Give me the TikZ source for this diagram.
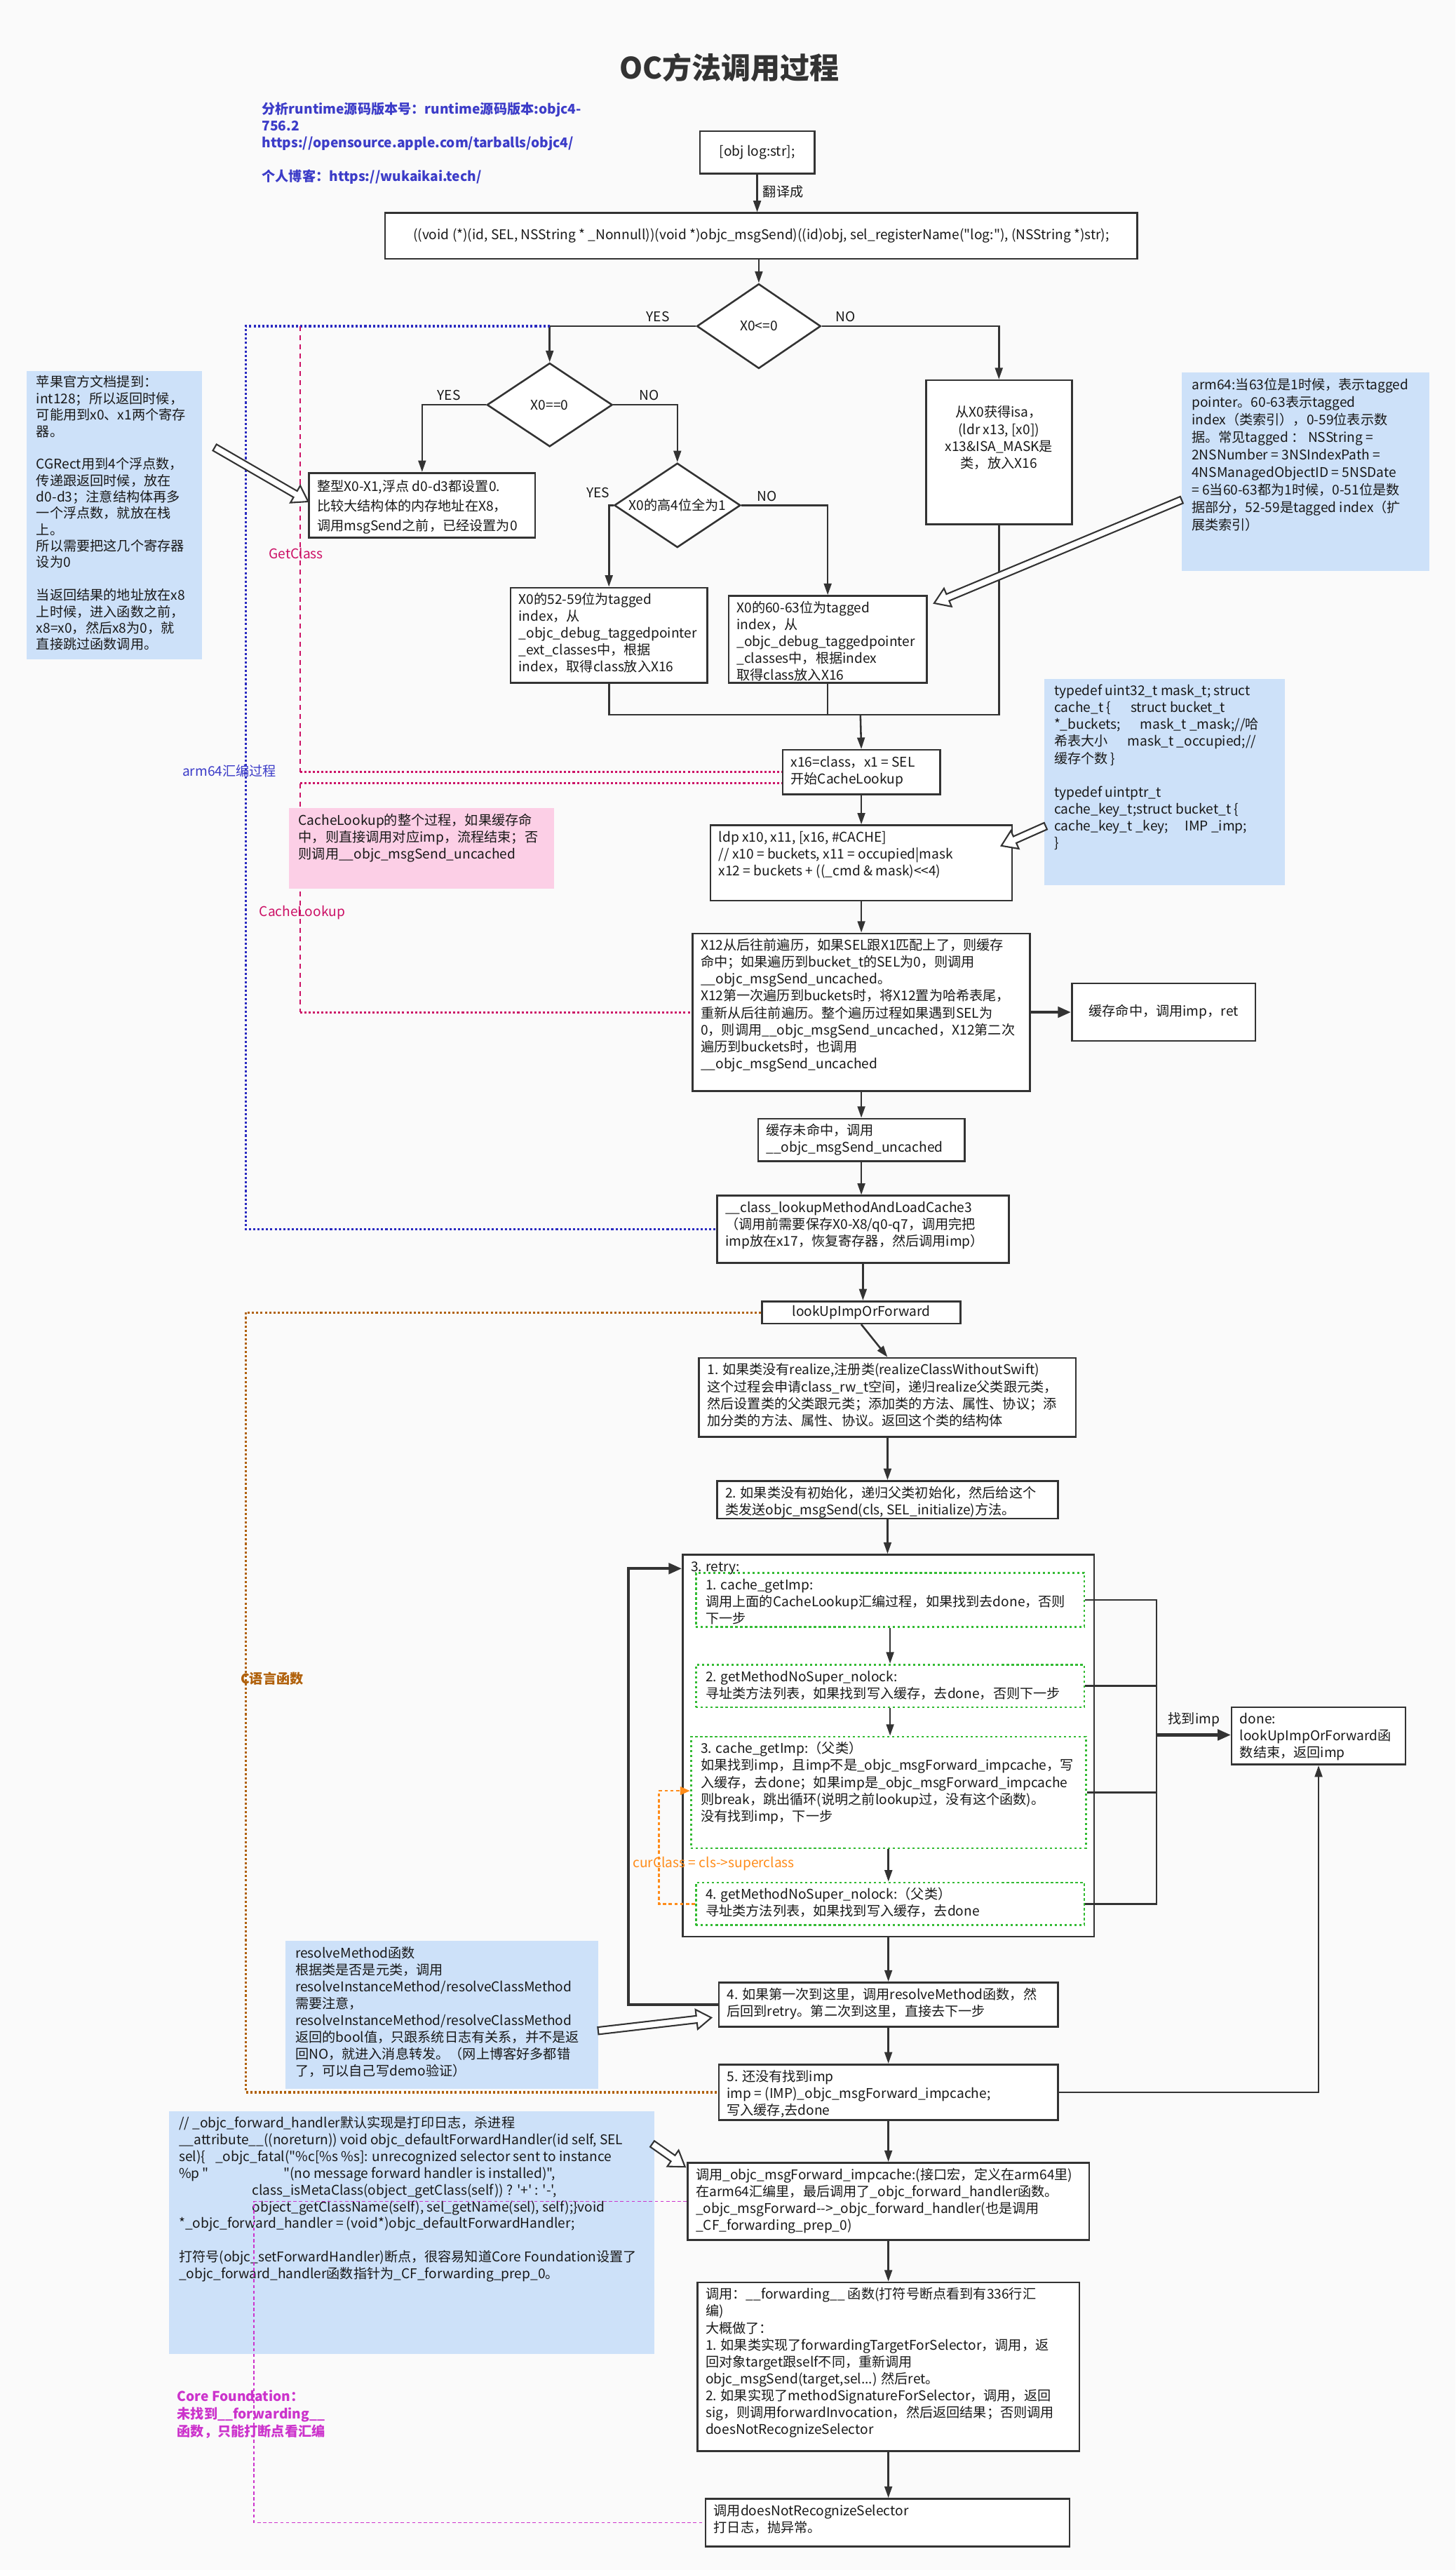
\documentclass[tikz,border=0pt]{standalone}
\usepackage{fontspec}
\newfontfamily\cjk{Noto Sans CJK SC}
\usetikzlibrary{arrows.meta,shapes.geometric,calc}
\definecolor{bgc}{HTML}{FAFAFA}
\definecolor{linec}{HTML}{333333}
\definecolor{notebl}{HTML}{CDE1F9}
\definecolor{notepk}{HTML}{FCCFE6}
\definecolor{hdrblue}{HTML}{3C3CC8}
\definecolor{crim}{HTML}{CC1166}
\definecolor{dblue}{HTML}{2A2AC0}
\definecolor{brn}{HTML}{B0600A}
\definecolor{gdot}{HTML}{33BB33}
\definecolor{orng}{HTML}{FF8C1A}
\definecolor{magc}{HTML}{CC33CC}
\newcommand{\tb}[4][10.3]{\begin{minipage}[c][#3pt][t]{#2pt}\fontsize{8.2}{#1}\selectfont\begin{tabular}{@{}l@{}}#4\end{tabular}\end{minipage}}
\newcommand{\holarrow}[2]{%
 \coordinate (hH) at ($(#2)!9pt!(#1)$);
 \draw[hol] ($(#1)!2.2pt!90:(#2)$) -- ($(hH)!2.2pt!90:(#2)$) -- ($(hH)!6pt!90:(#2)$) -- (#2) -- ($(hH)!6pt!-90:(#2)$) -- ($(hH)!2.2pt!-90:(#2)$) -- ($(#1)!2.2pt!-90:(#2)$) -- cycle;}
\tikzset{
 bfont/.style={font=\cjk\fontsize{8.2}{10.3}\selectfont, text=black!90},
 bx/.style={bfont, draw=linec, line width=1.1pt, fill=white, inner xsep=5pt, inner ysep=3pt, anchor=north west},
 cbx/.style={bfont, draw=linec, line width=1.1pt, fill=white, inner sep=2pt, align=center},
 nt/.style={bfont, fill=notebl, inner xsep=6pt, inner ysep=3pt, anchor=north west},
 gbx/.style={bfont, draw=gdot, line width=1.2pt, dash pattern=on 1.4pt off 1.6pt, inner xsep=6pt, inner ysep=3pt, anchor=north west},
 dmd/.style={bfont, diamond, draw=linec, line width=1.1pt, fill=white, inner sep=0pt, aspect=1.5},
 arw/.style={draw=linec, line width=1.1pt, -{Triangle[length=7pt,width=4.6pt]}},
 arwt/.style={draw=linec, line width=1.8pt, -{Triangle[length=8pt,width=6.5pt]}},
 lnn/.style={draw=linec, line width=1.1pt},
 lbl/.style={bfont, inner sep=1pt},
 hol/.style={draw=linec, line width=0.9pt, fill=white, line join=miter},
 bluedot/.style={draw=dblue, line width=1.3pt, dash pattern=on 1.3pt off 1.3pt},
 crimdot/.style={draw=crim, line width=1.3pt, dash pattern=on 1.3pt off 1.3pt},
 crimdash/.style={draw=crim, line width=0.9pt, dash pattern=on 3pt off 2.5pt},
 brndot/.style={draw=brn, line width=1.3pt, dash pattern=on 1.3pt off 1.3pt},
 magdash/.style={draw=magc, line width=0.7pt, dash pattern=on 2pt off 1.5pt},
 orgdash/.style={draw=orng, line width=1.1pt, dash pattern=on 2pt off 1.5pt, -{Triangle[length=6pt,width=5pt]}},
}
\begin{document}
\begin{tikzpicture}[x=1pt,y=-1pt]
\fill[bgc] (0,0) rectangle (888,1568);
\useasboundingbox (0,0) rectangle (888,1568);

% title and header
\node[font=\cjk\bfseries\fontsize{18}{21}\selectfont, text=black!80] (title) at (445,41) {OC方法调用过程};
\node[anchor=north west, inner sep=0pt, text=hdrblue, font=\cjk\bfseries\fontsize{8.2}{10.2}\selectfont] (hdr) at (159.7,62.3) {\begin{tabular}{@{}l@{}}分析runtime源码版本号：runtime源码版本:objc4-\\756.2\\https://opensource.apple.com/tarballs/objc4/\\ \\个人博客：https://wukaikai.tech/\end{tabular}};

% coordinates
\coordinate (mg) at (525,436);
\coordinate (bl) at (150,199);
\coordinate (pk) at (183,199);
\coordinate (pk2) at (183,478);
\coordinate (lp) at (383.5,957);
\coordinate (bus) at (705.6,1058.5);
\coordinate (ol) at (402,1092.6);
\coordinate (orc) at (150,800.7);
\coordinate (mgc) at (155,1342.5);

% top flow
\node[cbx, minimum width=70, minimum height=26] (obj) at (462,93) {[obj log:str];};
\node[cbx, minimum width=459, minimum height=28] (call) at (464.5,144) {((void (*)(id, SEL, NSString * \_Nonnull))(void *)objc\_msgSend)((id)obj, sel\_registerName("log:"), (NSString *)str);};
\node[dmd, minimum width=75.6, minimum height=51.7] (D1) at (463,199) {X0<=0};
\node[dmd, minimum width=76.5, minimum height=51] (D2) at (335.4,247) {X0==0};
\node[dmd, minimum width=77, minimum height=51.5] (D3) at (413.3,308.3) {X0的高4位全为1};
\node[bx] (zero) at (188,288) {\tb[12]{128}{33.5}{整型X0-X1,浮点 d0-d3都设置0.\\比较大结构体的内存地址在X8，\\调用msgSend之前，已经设置为0}};
\node[bx] (tag1) at (311,358) {\tb{110}{52}{X0的52-59位为tagged\\index，从\\\_objc\_debug\_taggedpointer\\\_ext\_classes中，根据\\index，取得class放入X16}};
\node[bx] (tag2) at (444,363) {\tb{111}{47}{X0的60-63位为tagged\\index，从\\\_objc\_debug\_taggedpointer\\\_classes中，根据index\\取得class放入X16}};
\node[bfont, draw=linec, line width=1.1pt, fill=white, inner xsep=5pt, inner ysep=3pt] (isa) at (609.5,276) {\begin{minipage}[c][82pt][c]{79pt}\centering\begin{tabular}{@{}c@{}}从X0获得isa，\\(ldr x13, [x0])\\x13\&ISA\_MASK是\\类，放入X16\end{tabular}\par\vspace{16pt}\end{minipage}};
\node[bx] (x16) at (477,457) {\tb{86}{21}{x16=class，x1 = SEL\\开始CacheLookup}};
\node[bx] (ldp) at (433,503) {\tb{174}{40}{ldp x10, x11, [x16, \#CACHE]\\// x10 = buckets, x11 = occupied|mask\\x12 = buckets + ((\_cmd \& mask)<<4)}};
\node[bx] (x12) at (422,569) {\tb{196}{90}{X12从后往前遍历，如果SEL跟X1匹配上了，则缓存\\命中；如果遍历到bucket\_t的SEL为0，则调用\\\_\_objc\_msgSend\_uncached。\\X12第一次遍历到buckets时，将X12置为哈希表尾，\\重新从后往前遍历。整个遍历过程如果遇到SEL为\\0，则调用\_\_objc\_msgSend\_uncached，X12第二次\\遍历到buckets时，也调用\\\_\_objc\_msgSend\_uncached}};
\node[cbx, minimum width=112, minimum height=35] (hit) at (710,617.5) {缓存命中，调用imp，ret};
\node[bx] (miss) at (462,682) {\tb{116}{20}{缓存未命中，调用\\\_\_objc\_msgSend\_uncached}};
\node[bx] (cache3) at (437,729) {\tb{168}{35}{\_\_class\_lookupMethodAndLoadCache3\\（调用前需要保存X0-X8/q0-q7，调用完把\\imp放在x17，恢复寄存器，然后调用imp）}};
\node[cbx, minimum width=121, minimum height=13.5, inner sep=0pt] (lookup) at (525.5,800.7) {lookUpImpOrForward};
\node[bx] (b1) at (426,828) {\tb{220}{42}{1. 如果类没有realize,注册类(realizeClassWithoutSwift)\\这个过程会申请class\_rw\_t空间，递归realize父类跟元类，\\然后设置类的父类跟元类；添加类的方法、属性、协议；添\\加分类的方法、属性、协议。返回这个类的结构体}};
\node[bx] (b2) at (437,903) {\tb{198}{17}{2. 如果类没有初始化，递归父类初始化，然后给这个\\类发送objc\_msgSend(cls, SEL\_initialize)方法。}};
\node[bx] (retry) at (416,948) {\tb{241}{227}{3. retry:}};
\node[gbx] (g1) at (424,959) {\tb{225}{27}{1. cache\_getImp:\\调用上面的CacheLookup汇编过程，如果找到去done，否则\\下一步}};
\node[gbx] (g2) at (424,1015) {\tb{225}{20}{2. getMethodNoSuper\_nolock:\\寻址类方法列表，如果找到写入缓存，去done，否则下一步}};
\node[gbx] (g3) at (421,1059) {\tb{229}{62}{3. cache\_getImp:（父类）\\如果找到imp，且imp不是\_objc\_msgForward\_impcache，写\\入缓存，去done；如果imp是\_objc\_msgForward\_impcache\\则break，跳出循环(说明之前lookup过，没有这个函数)。\\没有找到imp，下一步}};
\node[gbx] (g4) at (424,1148) {\tb{225}{20}{4. getMethodNoSuper\_nolock:（父类）\\寻址类方法列表，如果找到写入缓存，去done}};
\node[bx] (done) at (751,1041) {\tb{96}{29}{done:\\lookUpImpOrForward函\\数结束，返回imp}};
\node[bx] (b4) at (438,1209) {\tb{197}{21}{4. 如果第一次到这里，调用resolveMethod函数，然\\后回到retry。第二次到这里，直接去下一步}};
\node[bx] (b5) at (438,1259) {\tb{197}{28}{5. 还没有找到imp\\imp = (IMP)\_objc\_msgForward\_impcache;\\写入缓存,去done}};
\node[bx] (fwd) at (419,1319) {\tb{235}{41}{调用\_objc\_msgForward\_impcache:(接口宏，定义在arm64里)\\在arm64汇编里，最后调用了\_objc\_forward\_handler函数。\\\_objc\_msgForward-->\_objc\_forward\_handler(也是调用\\\_CF\_forwarding\_prep\_0)}};
\node[bx] (fwding) at (425,1392) {\tb{223}{97}{调用：\_\_forwarding\_\_ 函数(打符号断点看到有336行汇\\编)\\大概做了：\\1. 如果类实现了forwardingTargetForSelector，调用，返\\回对象target跟self不同，重新调用\\objc\_msgSend(target,sel...) 然后ret。\\2. 如果实现了methodSignatureForSelector，调用，返回\\sig，则调用forwardInvocation，然后返回结果；否则调用\\doesNotRecognizeSelector}};
\node[bx] (final) at (430,1524) {\tb{212}{23}{调用doesNotRecognizeSelector\\打日志，抛异常。}};

% flow connectors
\draw[arw] (obj) -- node[lbl, right, xshift=2pt, pos=0.45]{翻译成} (obj |- call.north);
\draw[arw] (call.south -| D1.north) -- (D1.north);
\draw[arw] (D1.west) -| node[lbl, pos=0.13, above=1pt]{YES} (D2.north);
\draw[arw] (D1.east) -| node[lbl, pos=0.067, above=1pt]{NO} (isa.north);
\draw[arw] (D2.west) -| node[lbl, pos=0.29, above=1pt]{YES} (zero.north);
\draw[arw] (D2.east) -| node[lbl, pos=0.28, above=1pt]{NO} (D3.north);
\draw[arw] (D3.west) -| (tag1.north);
\node[lbl] (d3yes) at ([xshift=-9.4pt,yshift=7.6pt]D3.west) {YES};
\draw[arw] (D3.east) -| node[lbl, pos=0.15, above=1pt]{NO} (tag2.north);
\draw[lnn] (tag1.south) -- (tag1.south |- mg) -- (isa.south |- mg) -- (isa.south);
\draw[lnn] (tag2.south) -- (tag2.south |- mg);
\draw[arw] (mg) -- (x16.north);
\draw[arw] (x16.south) -- (ldp.north);
\draw[arw] (ldp.south) -- (x12.north);
\draw[arwt] (x12.east) -- (x12.east -| hit.west);
\draw[arw] (x12.south) -- (miss.north);
\draw[arw] (miss.south) -- (miss.south |- cache3.north);
\draw[arw] (cache3.south) -- (cache3.south |- lookup.north);
\draw[arw] (lookup.south) -- (b1.north);
\draw[arw] (b1.south) -- (b1.south |- b2.north);
\draw[arw] (b2.south) -- (b2.south |- retry.north);
\draw[arw] (g1.south) -- (g1.south |- g2.north);
\draw[arw] (g2.south) -- (g2.south |- g3.north);
\draw[arw] (g3.south) -- (g3.south |- g4.north);
\draw[arw] (retry.south) -- (retry.south |- b4.north);
\draw[arw] (b4.south) -- (b4.south |- b5.north);
\draw[arw] (b5.south) -- (b5.south |- fwd.north);
\draw[arw] (fwd.south) -- (fwd.south |- fwding.north);
\draw[arw] (fwding.south) -- (fwding.south |- final.north);
\draw[lnn] (g1.east) -- (g1.east -| bus) -- (g4.east -| bus) -- (g4.east);
\draw[lnn] (g2.east) -- (g2.east -| bus);
\draw[lnn] (g3.east) -- (g3.east -| bus);
\draw[arwt] (bus) -- (bus -| done.west);
\node[lbl] (found) at (728.5,1049) {找到imp};
\draw[arw] (b5.east) -| (done.south);
\draw[arwt] (b4.west) -| (lp) -- (lp -| retry.west);
\draw[orgdash] (g4.west) -| (ol) -- (ol -| g3.west);
\node[lbl, anchor=west, text=orng] (cur) at (385,1137) {curClass = cls->superclass};

% annotation lines
\draw[bluedot] (D2.north |- D1.west) -- (bl) |- (cache3.west);
\node[lbl, text=hdrblue] (armlbl) at (140,470.5) {arm64汇编过程};
\draw[crimdash] (pk) -- (pk |- x16.west);
\draw[crimdot] (pk |- x16.west) -- (x16.west);
\draw[crimdot] (pk2) -- (pk2 -| x16.west);
\draw[crimdash] (pk2) -- (pk2 |- x12.west);
\draw[crimdot] (pk2 |- x12.west) -- (x12.west);
\node[lbl, text=crim] (gc) at (180.7,337.6) {GetClass};
\node[lbl, text=crim] (clk) at (184.4,556.6) {CacheLookup};
\draw[brndot] (lookup.west) -- (orc) |- (b5.west);
\node[lbl, text=brn, font=\cjk\bfseries\fontsize{8.2}{10.3}\selectfont] (clang) at (166,1024) {C语言函数};

% notes
\node[nt, fill=notepk] (cl) at (176,493) {\tb{150}{43}{CacheLookup的整个过程，如果缓存命\\中，则直接调用对应imp，流程结束；否\\则调用\_\_objc\_msgSend\_uncached}};
\node[nt] (apple) at (16,226) {\tb[10]{95}{170}{苹果官方文档提到：\\int128；所以返回时候，\\可能用到x0、x1两个寄存\\器。\\ \\CGRect用到4个浮点数，\\传递跟返回时候，放在\\d0-d3；注意结构体再多\\一个浮点数，就放在栈\\上。\\所以需要把这几个寄存器\\设为0\\ \\当返回结果的地址放在x8\\上时候，进入函数之前，\\x8=x0，然后x8为0，就\\直接跳过函数调用。}};
\node[nt] (arm) at (721,227) {\tb[10.7]{139}{115}{arm64:当63位是1时候，表示tagged\\pointer。60-63表示tagged\\index（类索引），0-59位表示数\\据。常见tagged ： NSString =\\2NSNumber = 3NSIndexPath =\\4NSManagedObjectID = 5NSDate\\= 6当60-63都为1时候，0-51位是数\\据部分，52-59是tagged index（扩\\展类索引）}};
\node[nt] (td) at (637,414) {\tb{135}{120}{typedef uint32\_t mask\_t; struct\\cache\_t \{\hspace*{12pt}struct bucket\_t\\{*}\_buckets;\hspace*{12pt}mask\_t \_mask;//哈\\希表大小\hspace*{12pt}mask\_t \_occupied;//\\缓存个数 \}\\ \\typedef uintptr\_t\\cache\_key\_t;struct bucket\_t \{\\cache\_key\_t \_key;\hspace*{10pt}IMP \_imp;\\\}}};
\node[nt] (resolve) at (174,1184) {\tb{179}{84}{resolveMethod函数\\根据类是否是元类，调用\\resolveInstanceMethod/resolveClassMethod\\需要注意，\\resolveInstanceMethod/resolveClassMethod\\返回的bool值，只跟系统日志有关系，并不是返\\回NO，就进入消息转发。（网上博客好多都错\\了，可以自己写demo验证）}};
\node[nt] (fh) at (103,1288) {\tb[10.2]{284}{142}{// \_objc\_forward\_handler默认实现是打印日志，杀进程\\\_\_attribute\_\_((noreturn)) void objc\_defaultForwardHandler(id self, SEL\\sel)\{\hspace*{6pt}\_objc\_fatal("\%c[\%s \%s]: unrecognized selector sent to instance\\\makebox[63.7pt][l]{\%p "}"(no message forward handler is installed)",\\\hspace*{44.7pt}class\_isMetaClass(object\_getClass(self)) ? '+' : '-',\\\hspace*{44.7pt}object\_getClassName(self), sel\_getName(sel), self);\}void\\{*}\_objc\_forward\_handler = (void*)objc\_defaultForwardHandler;\\ \\打符号(objc\_setForwardHandler)断点，很容易知道Core Foundation设置了\\\_objc\_forward\_handler函数指针为\_CF\_forwarding\_prep\_0。}};
\draw[magdash] (fwd.west) -- (fwd.west -| mgc) -- (final.west -| mgc) -- (final.west);
\node[anchor=north west, inner sep=0pt, text=magc, font=\cjk\bfseries\fontsize{8.2}{10.7}\selectfont] (cf) at (108,1457.5) {\begin{tabular}{@{}l@{}}Core Foundation：\\未找到\_\_forwarding\_\_\\函数，只能打断点看汇编\end{tabular}};

% hollow arrows
\coordinate (h1a) at (131,273); \coordinate (h1b) at (188,306);
\coordinate (h2a) at (721,305); \coordinate (h2b) at (570,368);
\coordinate (h3a) at (638,504); \coordinate (h3b) at (611,516);
\coordinate (h4a) at (365,1239); \coordinate (h4b) at (434,1231);
\coordinate (h5a) at (398,1308); \coordinate (h5b) at (418,1322);
\holarrow{h1a}{h1b}
\holarrow{h2a}{h2b}
\holarrow{h3a}{h3b}
\holarrow{h4a}{h4b}
\holarrow{h5a}{h5b}
\end{tikzpicture}
\end{document}
